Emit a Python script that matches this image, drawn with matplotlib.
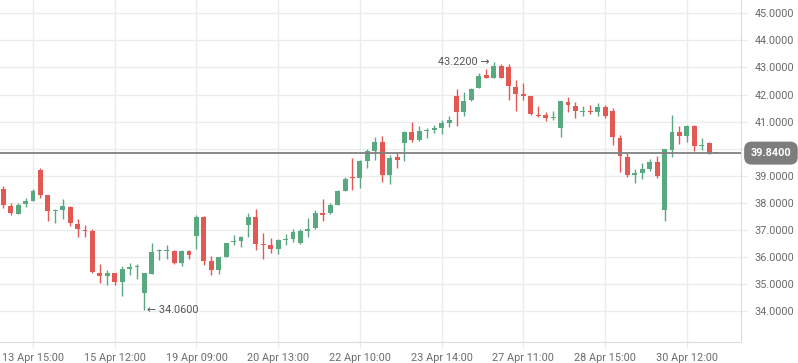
import numpy as np
import matplotlib
matplotlib.use('Agg')
import matplotlib.pyplot as plt

# Datos OHLC (una vela por sesión)
OPENS = [38.52, 37.90, 37.58, 37.95, 38.09, 39.22, 38.30, 37.69, 37.75, 37.86,
         37.24, 37.02, 36.98, 35.43, 35.30, 35.40, 35.08, 35.58, 35.63, 34.68,
         35.39, 36.21, 36.22, 36.24, 35.80, 36.22, 36.78, 37.50, 35.85, 35.54,
         36.01, 36.55, 36.59, 37.18, 37.49, 36.50, 36.46, 36.30, 36.63, 36.66,
         36.54, 36.97, 37.06, 37.62, 37.62, 37.92, 38.45, 38.97, 38.92, 39.55,
         39.92, 40.24, 39.04, 39.68, 40.22, 40.61, 40.33, 40.66, 40.69, 40.75,
         40.96, 41.96, 41.34, 41.81, 42.26, 42.71, 42.60, 43.04, 43.01, 42.29,
         42.01, 41.93, 41.26, 41.23, 41.12, 40.75, 41.74, 41.59, 41.35, 41.38,
         41.35, 41.53, 41.38, 40.39, 39.68, 39.03, 39.11, 39.25, 39.50, 37.74,
         39.96, 40.61, 40.47, 40.83, 40.10, 40.20, 39.83]
HIGHS = [38.63, 38.00, 38.00, 38.19, 38.52, 39.29, 38.30, 37.77, 38.15, 37.90,
         37.42, 37.17, 37.05, 35.76, 35.51, 35.42, 35.67, 35.80, 35.76, 35.42,
         36.51, 36.29, 36.46, 36.28, 36.26, 36.26, 37.55, 37.52, 36.06, 36.02,
         36.54, 36.80, 36.79, 37.63, 37.78, 36.89, 36.72, 36.68, 36.87, 37.05,
         37.03, 37.45, 37.73, 38.14, 38.01, 38.47, 38.95, 39.65, 39.58, 40.01,
         40.43, 40.46, 39.76, 39.84, 40.65, 40.98, 40.83, 40.77, 40.87, 41.06,
         41.21, 42.21, 42.09, 42.25, 42.79, 42.96, 43.22, 43.12, 43.13, 42.52,
         42.44, 41.93, 41.58, 41.37, 41.39, 41.77, 41.91, 41.74, 41.59, 41.61,
         41.68, 41.61, 41.50, 40.50, 39.83, 39.24, 39.48, 39.61, 39.72, 39.98,
         41.24, 40.83, 40.87, 40.87, 40.39, 40.26, 39.83]
LOWS = [37.80, 37.54, 37.58, 37.84, 38.09, 38.20, 37.32, 37.25, 37.42, 37.16,
        36.76, 36.76, 35.40, 35.03, 34.98, 34.97, 34.56, 35.36, 35.19, 34.06,
        35.39, 35.90, 35.94, 35.76, 35.68, 35.94, 36.29, 35.72, 35.35, 35.39,
        36.01, 36.45, 36.38, 36.76, 36.26, 35.94, 36.15, 36.12, 36.44, 36.57,
        36.47, 36.76, 37.04, 37.35, 37.60, 37.92, 38.45, 38.48, 38.56, 39.29,
        39.59, 38.78, 38.70, 39.29, 39.55, 40.25, 40.28, 40.40, 40.59, 40.53,
        40.79, 40.85, 41.20, 41.77, 42.23, 42.60, 42.60, 42.60, 41.81, 41.38,
        41.81, 41.25, 41.18, 41.01, 41.05, 40.42, 41.37, 41.12, 41.20, 41.27,
        41.20, 41.13, 40.14, 39.14, 38.96, 38.74, 38.88, 39.18, 38.94, 37.33,
        39.70, 40.18, 40.25, 39.92, 39.95, 39.80, 39.83]
CLOSES = [37.91, 37.62, 37.93, 38.08, 38.45, 38.31, 37.69, 37.75, 37.88, 37.25,
          37.05, 36.98, 35.45, 35.30, 35.40, 35.08, 35.58, 35.63, 35.67, 35.40,
          36.18, 36.27, 36.26, 35.79, 36.22, 36.09, 37.50, 35.87, 35.54, 36.00,
          36.51, 36.59, 36.76, 37.49, 36.49, 36.46, 36.29, 36.65, 36.67, 36.92,
          36.98, 37.05, 37.62, 37.57, 37.92, 38.43, 38.88, 38.92, 39.54, 39.91,
          40.24, 39.04, 39.65, 39.59, 40.61, 40.33, 40.65, 40.70, 40.75, 40.96,
          41.07, 41.34, 41.77, 42.21, 42.69, 42.60, 43.06, 42.62, 42.30, 42.01,
          41.94, 41.27, 41.21, 41.12, 41.17, 41.77, 41.60, 41.38, 41.38, 41.35,
          41.53, 41.20, 40.44, 39.73, 39.03, 39.09, 39.24, 39.50, 38.98, 39.98,
          40.61, 40.47, 40.83, 40.10, 40.15, 39.80, 39.83]

# Etiquetas del eje de tiempo y la vela en la que caen
TICK_LABELS = ['13 Apr 15:00', '15 Apr 12:00', '19 Apr 09:00', '20 Apr 13:00',
               '22 Apr 10:00', '23 Apr 14:00', '27 Apr 11:00', '28 Apr 15:00',
               '30 Apr 12:00']
TICK_CANDLES = [4, 15, 26, 37, 48, 59, 70, 81, 92]
PRICE_TICKS = [34, 35, 36, 37, 38, 39, 40, 41, 42, 43, 44, 45]

LAST_PRICE = 39.84
MAX_LABEL = '43.2200'
MIN_LABEL = '34.0600'

GREEN = '#58a880'
RED = '#e25852'
GRID = '#ececec'
TEXT = '#6b6b6b'

plt.rcParams['font.family'] = ['Roboto', 'DejaVu Sans']


def plot_candles(ax):
    """
    Dibuja las velas: mecha de 1 px y cuerpo rectangular.
    """
    for i, (o, h, l, c) in enumerate(zip(OPENS, HIGHS, LOWS, CLOSES)):
        if c > o:
            color = GREEN
        elif c < o:
            color = RED
        else:
            color = '#8a8a8a'
        ax.vlines(i, l, h, color=color, linewidth=1.0, zorder=3)
        body = max(abs(c - o), 0.035)
        ax.bar(i, body, bottom=min(o, c), width=0.66, color=color,
               linewidth=0, zorder=3)


def main():
    fig = plt.figure(figsize=(7.98, 3.63), dpi=100)
    ax = fig.add_axes([0.0, 1 - 342 / 363, 741 / 798, 342 / 363])

    ax.set_xlim(-0.44, 99.29)
    ax.set_ylim(32.87, 45.49)

    plot_candles(ax)

    # Línea de último precio
    ax.axhline(LAST_PRICE, color='#808080', linewidth=1.3, zorder=4)

    # Rejilla; la etiqueta de 40 queda tapada por la del último precio
    ax.set_yticks(PRICE_TICKS)
    ax.set_yticklabels(['' if abs(v - LAST_PRICE) < 0.5 else f'{v:.4f}'
                        for v in PRICE_TICKS])
    ax.set_xticks(TICK_CANDLES)
    ax.set_xticklabels(TICK_LABELS)
    ax.grid(True, color=GRID, linewidth=1.0, zorder=0)
    ax.yaxis.tick_right()
    ax.tick_params(axis='both', colors=GRID, labelcolor=TEXT, labelsize=7.8,
                   length=4, width=1.0)
    ax.tick_params(axis='y', pad=6)
    ax.tick_params(axis='x', pad=4)

    for side in ['top', 'left']:
        ax.spines[side].set_visible(False)
    for side in ['right', 'bottom']:
        ax.spines[side].set_color('#dcdcdc')

    # Máximo y mínimo del periodo
    i_max = int(np.argmax(HIGHS))
    i_min = int(np.argmin(LOWS))
    ax.annotate(MAX_LABEL + ' \u2192', xy=(i_max - 0.6, HIGHS[i_max]),
                ha='right', va='center', fontsize=7.8, color='#555555')
    ax.annotate('\u2190 ' + MIN_LABEL, xy=(i_min + 0.4, LOWS[i_min]),
                ha='left', va='center', fontsize=7.8, color='#555555')

    # Etiqueta del último precio a la derecha
    ax.text(1.013, LAST_PRICE, f'{LAST_PRICE:.4f}', transform=ax.get_yaxis_transform(),
            ha='left', va='center', fontsize=7.8, color='white', fontweight='bold',
            bbox=dict(boxstyle='round,pad=0.6,rounding_size=0.7', fc='#7d7d7d',
                      ec='none'), zorder=5)

    fig.savefig('out.png', dpi=100)
    plt.close(fig)


if __name__ == '__main__':
    main()
